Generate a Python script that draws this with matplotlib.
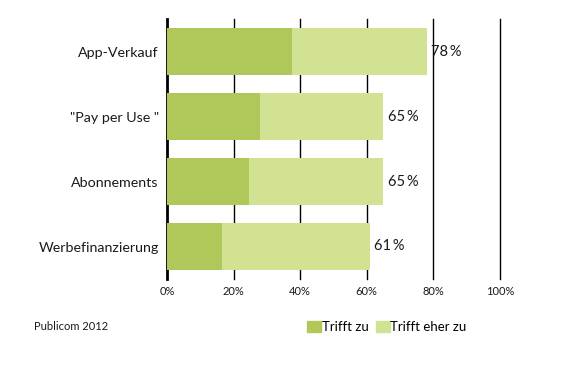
import numpy as np
import matplotlib.pyplot as plt
from matplotlib.patches import Patch

plt.rcParams["font.family"] = ["Lato", "DejaVu Sans"]

# Daten
kategorien = ["App-Verkauf", '"Pay per Use "', "Abonnements", "Werbefinanzierung"]
trifft_zu = [37.5, 28, 24.5, 16.5]
gesamt = [78, 65, 65, 61]
eher_zu = [g - t for g, t in zip(gesamt, trifft_zu)]
x_ticks = [0, 20, 40, 60, 80, 100]

DUNKEL = "#b0c85a"
HELL = "#d1e293"
TEXT = "#1a1a1a"

fig = plt.figure(figsize=(5.68, 3.78), dpi=100)
ax = fig.add_axes([167 / 568, 1 - 279 / 378, 333 / 568, 260 / 378])

y = np.arange(len(kategorien))
ax.barh(y, trifft_zu, height=0.72, color=DUNKEL, zorder=3)
ax.barh(y, eher_zu, left=trifft_zu, height=0.72, color=HELL, zorder=3)

for yi, g in zip(y, gesamt):
    ax.text(g + 1.3, yi, f"{g}\u2009%", va="center", ha="left", fontsize=10.5, color=TEXT)

# Gitterlinien
for t in x_ticks[1:]:
    ax.axvline(t, color="black", linewidth=1, zorder=1, clip_on=False)
ax.axvline(0, color="black", linewidth=2, zorder=1, clip_on=False)

ax.set_xlim(0, 100)
ax.set_ylim(len(kategorien) - 0.5, -0.5)
ax.set_yticks(y)
ax.set_yticklabels(kategorien, fontsize=10.3, color=TEXT)
ax.set_xticks(x_ticks)
ax.set_xticklabels([f"{t}%" for t in x_ticks], fontsize=8, color=TEXT)
ax.tick_params(axis="both", length=0)
ax.tick_params(axis="y", pad=6)
ax.tick_params(axis="x", pad=5)
for s in ax.spines.values():
    s.set_visible(False)

fig.text(34 / 568, 1 - 327 / 378, "Publicom 2012", fontsize=8, va="center", ha="left", color=TEXT)

handles = [Patch(color=DUNKEL), Patch(color=HELL)]
fig.legend(handles, ["Trifft zu", "Trifft eher zu"], loc="center left",
           bbox_to_anchor=(307 / 568, 1 - 327 / 378), ncol=2, frameon=False,
           fontsize=9.5, handlelength=1.06, handleheight=0.85, handletextpad=0.05,
           columnspacing=0.55, borderpad=0, borderaxespad=0)

fig.savefig("out.png", dpi=100)
